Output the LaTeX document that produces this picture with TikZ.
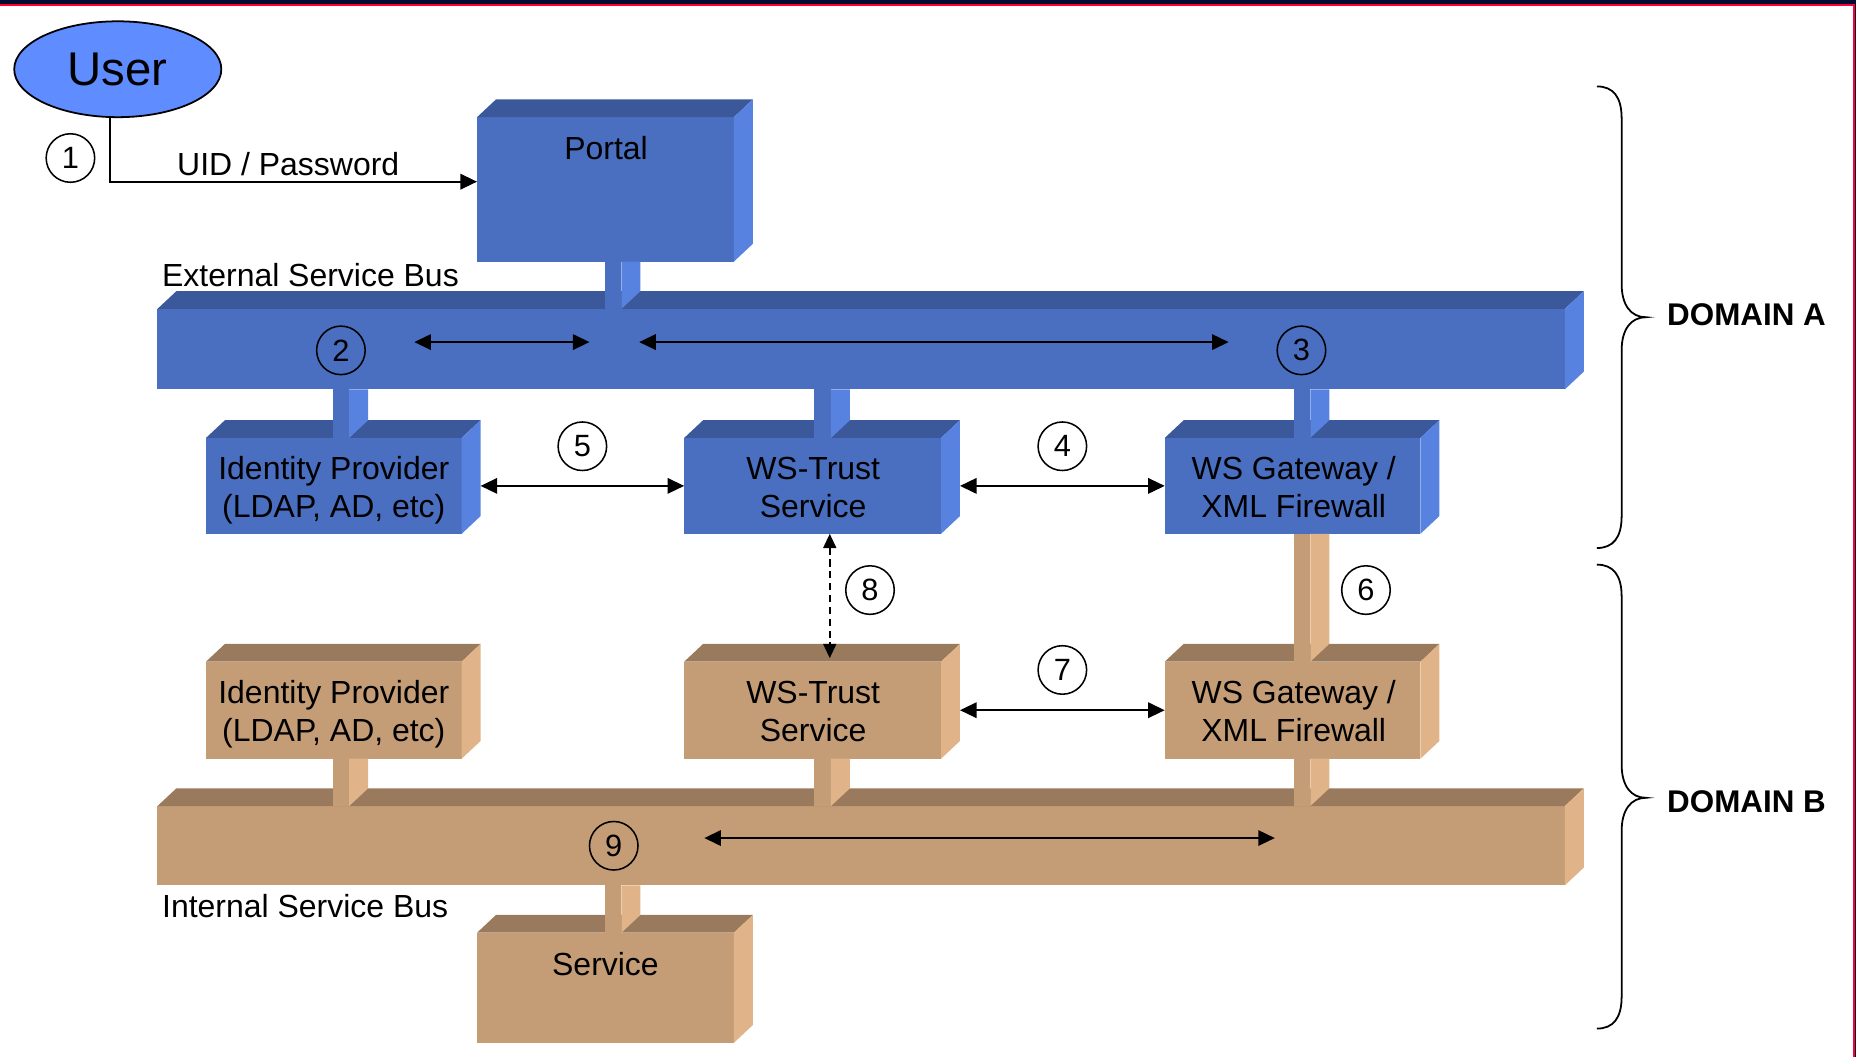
\documentclass[tikz,border=0pt]{standalone}
\usepackage{fontspec}
\setmainfont{Liberation Sans}
\usetikzlibrary{arrows.meta,calc,shapes.geometric}
\definecolor{bfront}{RGB}{74,110,192}
\definecolor{btop}{RGB}{59,88,155}
\definecolor{bside}{RGB}{88,130,224}
\definecolor{tfront}{RGB}{196,157,118}
\definecolor{ttop}{RGB}{153,122,92}
\definecolor{tside}{RGB}{224,180,136}
\definecolor{userblue}{RGB}{95,140,255}
\definecolor{navy}{RGB}{0,13,51}
\definecolor{framered}{RGB}{255,0,51}
\tikzset{
  face/.style={rectangle, draw=none, inner sep=0pt, outer sep=0pt},
  bluebox/.style={face, fill=bfront},
  tanbox/.style={face, fill=tfront},
  lbl/.style={inner sep=0pt, outer sep=0pt, font=\fontsize{27}{32}\selectfont, anchor=base},
  lblw/.style={lbl, anchor=base west},
  dom/.style={inner sep=0pt, outer sep=0pt, font=\fontsize{26.5}{30}\selectfont\bfseries, anchor=base west},
  num/.style={circle, draw, line width=1.3pt, minimum size=41pt, inner sep=0pt, font=\fontsize{26}{30}\selectfont},
  conn/.style={line width=1.7pt, {Triangle[length=14pt,width=13pt]}-{Triangle[length=14pt,width=13pt]}},
  oneway/.style={line width=1.7pt, -{Triangle[length=14pt,width=13pt]}},
  dashconn/.style={line width=1.3pt, dash pattern=on 6pt off 4pt, {Triangle[length=12pt,width=11pt]}-{Triangle[length=12pt,width=11pt]}},
  bracestyle/.style={line width=1.5pt}
}
\newcommand\boxfaces[2]{%
  \fill[#2top] (#1.north west) -- ++(16,-15) -- ($(#1.north east)+(16,-15)$) -- (#1.north east) -- cycle;
  \fill[#2side] (#1.north east) -- ++(16,-15) -- ($(#1.south east)+(16,-15)$) -- (#1.south east) -- cycle;
}
\newcommand\stubcol[4]{%
  \coordinate (sx) at (#1,0);
  \fill[#4front] (sx |- #2.south) rectangle ($(sx |- #3.north)+(14,0)$);
  \fill[#4side] ($(sx |- #2.south)+(14,0)$) -- ($(sx |- #2.south)+(30,0)$) -- ($(sx |- #3.north)+(30,-15)$) -- ($(sx |- #3.north)+(14,0)$) -- cycle;
}
\begin{document}
\begin{tikzpicture}[x=1pt,y=-1pt]
\useasboundingbox (0,0) rectangle (1568,893);
% frame
\fill[navy] (0,0) rectangle (1568,3.6);
\fill[framered] (0,3.6) rectangle (1567.2,5.3);
\fill[framered] (1565.4,3.6) rectangle (1567.2,893);
\fill[navy] (1567.2,0) rectangle (1568,893);

% user
\node[ellipse, draw, line width=1.5pt, fill=userblue, minimum width=175pt, minimum height=81pt, inner sep=0pt, font=\fontsize{40}{44}\selectfont] (user) at (99.5,58.5) {User};

% portal
\node[bluebox, minimum width=217pt, minimum height=122pt] (portal) at (511.5,160) {};
\boxfaces{portal}{b}

% external bus
\node[bluebox, minimum width=1189pt, minimum height=68pt] (busA) at (727.5,295) {};
\boxfaces{busA}{b}
\stubcol{511}{portal}{busA}{b}

% domain A boxes
\node[bluebox, minimum width=216pt, minimum height=81pt] (idpA) at (282,410.5) {};
\node[bluebox, minimum width=217pt, minimum height=81pt] (wstA) at (686.5,410.5) {};
\node[bluebox, minimum width=216pt, minimum height=81pt] (gwA) at (1092,410.5) {};
\boxfaces{idpA}{b}
\boxfaces{wstA}{b}
\boxfaces{gwA}{b}
\stubcol{281}{busA}{idpA}{b}
\stubcol{688}{busA}{wstA}{b}
\stubcol{1093}{busA}{gwA}{b}

% domain B boxes
\node[tanbox, minimum width=216pt, minimum height=82pt] (idpB) at (282,600) {};
\node[tanbox, minimum width=217pt, minimum height=82pt] (wstB) at (686.5,600) {};
\node[tanbox, minimum width=216pt, minimum height=82pt] (gwB) at (1092,600) {};
\boxfaces{idpB}{t}
\boxfaces{wstB}{t}
\boxfaces{gwB}{t}
\stubcol{1093}{gwA}{gwB}{t}

% internal bus
\node[tanbox, minimum width=1189pt, minimum height=67pt] (busB) at (727.5,714.5) {};
\boxfaces{busB}{t}
\stubcol{281}{idpB}{busB}{t}
\stubcol{688}{wstB}{busB}{t}
\stubcol{1093}{gwB}{busB}{t}

% service
\node[tanbox, minimum width=217pt, minimum height=93pt] (service) at (511.5,834.5) {};
\boxfaces{service}{t}
\stubcol{511}{busB}{service}{t}

% texts
\node[lbl] (portaltxt) at (512,134.5) {Portal};
\node[lbl] (servicetxt) at (511.5,824) {Service};
\node[lbl] (idpAa) at (282,405) {Identity Provider};
\node[lbl] (idpAb) at (282,437) {(LDAP, AD, etc)};
\node[lbl] (wstAa) at (687,405) {WS-Trust};
\node[lbl] (wstAb) at (687,437) {Service};
\node[lbl] (gwAa) at (1093,405) {WS Gateway /};
\node[lbl] (gwAb) at (1093,437) {XML Firewall};
\node[lbl] (idpBa) at (282,594.5) {Identity Provider};
\node[lbl] (idpBb) at (282,626.5) {(LDAP, AD, etc)};
\node[lbl] (wstBa) at (687,594.5) {WS-Trust};
\node[lbl] (wstBb) at (687,626.5) {Service};
\node[lbl] (gwBa) at (1093,594.5) {WS Gateway /};
\node[lbl] (gwBb) at (1093,626.5) {XML Firewall};
\node[lbl] (uidtxt) at (243.5,148) {UID / Password};
\node[lblw] (esbtxt) at (137,242) {External Service Bus};
\node[lblw] (isbtxt) at (137,775) {Internal Service Bus};
\node[dom] (domA) at (1408.5,275.4) {DOMAIN A};
\node[dom] (domB) at (1408.5,686.5) {DOMAIN B};

% numbered circles
\node[num] (n1) at (59.5,133.5) {1};
\node[num] (n2) at (288,296) {2};
\node[num] (n3) at (1099.5,296) {3};
\node[num] (n4) at (897.5,377) {4};
\node[num] (n5) at (492,377) {5};
\node[num] (n6) at (1154,498.5) {6};
\node[num] (n7) at (897.5,566) {7};
\node[num] (n8) at (735,498.5) {8};
\node[num] (n9) at (518.5,714.5) {9};

% connectors
\draw[oneway] ([xshift=-6.5pt]user.south) |- ([yshift=6.5pt]portal.west);
\coordinate (a2l) at (350,289);
\coordinate (a2r) at (498,289);
\coordinate (a3l) at (540,289);
\coordinate (a3r) at (1038,289);
\draw[conn] (a2l) -- (a2r);
\draw[conn] (a3l) -- (a3r);
\draw[conn] ([xshift=16pt]idpA.east) -- (wstA.west);
\draw[conn] ([xshift=16pt]wstA.east) -- (gwA.west);
\draw[conn] ([xshift=16pt]wstB.east) -- (gwB.west);
\coordinate (d8) at (701,0);
\draw[dashconn] (d8 |- wstA.south) -- ($(d8 |- wstB.north)+(0,-3)$);
\coordinate (a9l) at (595,708);
\coordinate (a9r) at (1077,708);
\draw[conn] (a9l) -- (a9r);

% braces
\draw[bracestyle] (1349,73) .. controls (1363,73) and (1370,82) .. (1370,100) -- (1370,240) .. controls (1370,258) and (1378,268) .. (1390.5,268) .. controls (1378,268) and (1370,278) .. (1370,296) -- (1370,436) .. controls (1370,454) and (1363,463) .. (1349,463);
\draw[bracestyle] (1349,477) .. controls (1363,477) and (1370,486) .. (1370,504) -- (1370,646) .. controls (1370,664) and (1378,674) .. (1390.5,674) .. controls (1378,674) and (1370,684) .. (1370,702) -- (1370,842) .. controls (1370,860) and (1363,869) .. (1349,869);
\end{tikzpicture}
\end{document}
